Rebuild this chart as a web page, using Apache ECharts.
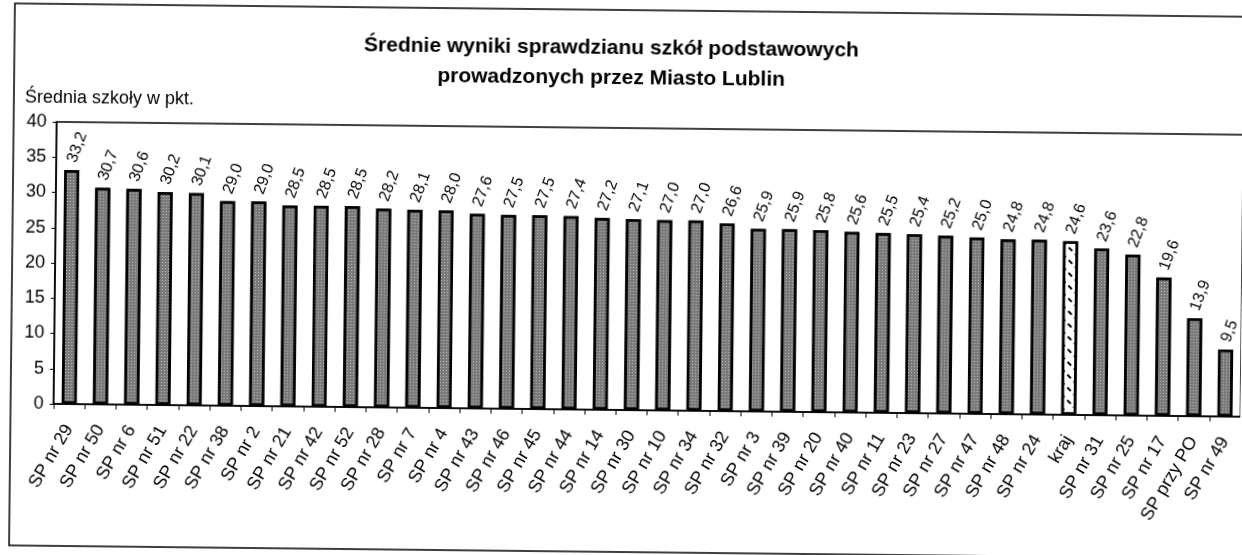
<!DOCTYPE html>
<html><head><meta charset="utf-8">
<script src="https://cdn.jsdelivr.net/npm/echarts@6/dist/echarts.min.js"></script>
<style>
html,body{margin:0;padding:0;background:#fff;overflow:hidden;}
#wrap{position:absolute;left:0;top:0;width:1242px;height:555px;transform:rotate(0.62deg);transform-origin:621px 277px;}
#chart{width:1242px;height:555px;}
</style></head>
<body>
<div id="wrap"><div id="chart"></div></div>
<script>
const titleLines = ['Średnie wyniki sprawdzianu szkół podstawowych', 'prowadzonych przez Miasto Lublin'];
const yAxisTitle = 'Średnia szkoły w pkt.';
const categories = ['SP nr 29','SP nr 50','SP nr 6','SP nr 51','SP nr 22','SP nr 38','SP nr 2','SP nr 21','SP nr 42','SP nr 52','SP nr 28','SP nr 7','SP nr 4','SP nr 43','SP nr 46','SP nr 45','SP nr 44','SP nr 14','SP nr 30','SP nr 10','SP nr 34','SP nr 32','SP nr 3','SP nr 39','SP nr 20','SP nr 40','SP nr 11','SP nr 23','SP nr 27','SP nr 47','SP nr 48','SP nr 24','kraj','SP nr 31','SP nr 25','SP nr 17','SP przy PO','SP nr 49'];
const values = [33.2,30.7,30.6,30.2,30.1,29.0,29.0,28.5,28.5,28.5,28.2,28.1,28.0,27.6,27.5,27.5,27.4,27.2,27.1,27.0,27.0,26.6,25.9,25.9,25.8,25.6,25.5,25.4,25.2,25.0,24.8,24.8,24.6,23.6,22.8,19.6,13.9,9.5];
const nationalCategory = 'kraj';
const yTicks = [0,5,10,15,20,25,30,35,40];

const FONT = '"Liberation Sans", Arial, sans-serif';
const schoolStyle = {
  color: '#7a7a7a', borderColor: '#000', borderWidth: 2.5,
  decal: { symbol: 'rect', symbolSize: 1, color: 'rgba(255,255,255,0.5)', dashArrayX: [1, 2], dashArrayY: [1, 2], rotation: 0 }
};
const nationalStyle = {
  color: '#fff', borderColor: '#000', borderWidth: 2.5,
  decal: { symbol: 'rect', symbolSize: 1, color: '#000', dashArrayX: [[5, 4]], dashArrayY: [1.5, 7], rotation: Math.PI / 4 }
};
const seriesData = values.map((v, i) => ({
  value: v,
  itemStyle: categories[i] === nationalCategory ? nationalStyle : schoolStyle
}));

const chart = echarts.init(document.getElementById('chart'), null, { renderer: 'canvas' });
chart.setOption({
  animation: false,
  backgroundColor: '#fff',
  textStyle: { fontFamily: FONT },
  title: [
    { text: titleLines.join('\n'), left: 604, top: 28, textAlign: 'center',
      textStyle: { fontFamily: FONT, fontSize: 21, fontWeight: 'bold', color: '#000', lineHeight: 30 } },
    { text: yAxisTitle, left: 18, top: 90,
      textStyle: { fontFamily: FONT, fontSize: 18, fontWeight: 'normal', color: '#000' } }
  ],
  graphic: [
    { type: 'rect', shape: { x: 12, y: 10, width: 1260, height: 542 }, style: { fill: 'none', stroke: '#000', lineWidth: 1.5 }, silent: true }
  ],
  grid: { left: 55, top: 128, width: 1191, bottom: 145, show: true, borderColor: '#000', borderWidth: 1.5, backgroundColor: 'transparent', containLabel: false },
  xAxis: {
    type: 'category', data: categories,
    axisLine: { lineStyle: { color: '#000', width: 1.5 } },
    axisTick: { show: true, alignWithLabel: false, length: 5, lineStyle: { color: '#000' } },
    axisLabel: { interval: 0, rotate: 60, margin: 22, fontSize: 18, color: '#000', fontFamily: FONT }
  },
  yAxis: {
    type: 'value', min: yTicks[0], max: yTicks[yTicks.length - 1], interval: yTicks[1] - yTicks[0],
    axisLine: { show: true, lineStyle: { color: '#000', width: 1.5 } },
    axisTick: { show: true, length: 4, lineStyle: { color: '#000' } },
    splitLine: { show: false },
    axisLabel: { fontSize: 18, color: '#000', margin: 10, fontFamily: FONT }
  },
  series: [{
    type: 'bar', data: seriesData, barWidth: 15,
    label: {
      show: true, position: 'top', rotate: 70, align: 'left', verticalAlign: 'middle', distance: 8,
      fontSize: 16, color: '#000', fontFamily: FONT,
      formatter: p => p.value.toFixed(1).replace('.', ',')
    }
  }]
});
</script>
</body></html>
